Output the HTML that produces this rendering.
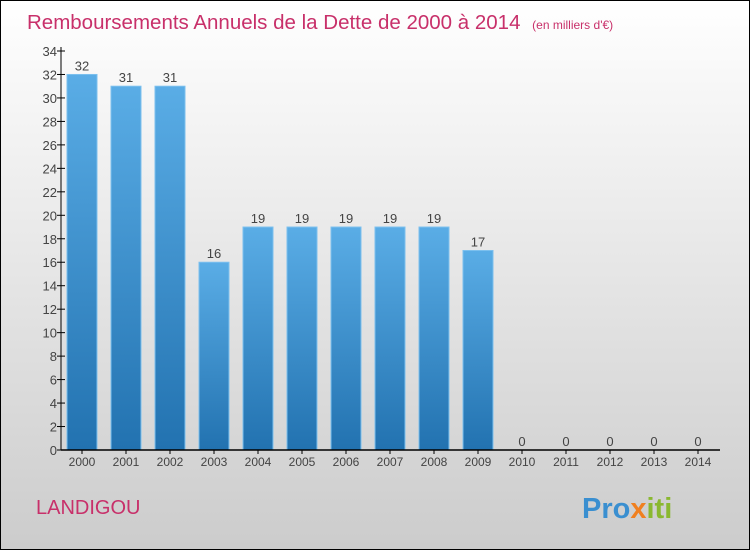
<!DOCTYPE html>
<html><head><meta charset="utf-8"><style>
body{margin:0;width:750px;height:550px;overflow:hidden;font-family:"Liberation Sans",sans-serif}
</style></head><body>
<svg id="c" width="750" height="550" xmlns="http://www.w3.org/2000/svg">
<defs>
<linearGradient id="bg" x1="0" y1="0" x2="0" y2="1"><stop offset="0" stop-color="#ffffff"/><stop offset="1" stop-color="#cccccc"/></linearGradient>
<linearGradient id="bar" x1="0" y1="0" x2="0" y2="1"><stop offset="0" stop-color="#5aade6"/><stop offset="1" stop-color="#2272b0"/></linearGradient>
</defs>
<rect x="0.5" y="0.5" width="749" height="549" fill="url(#bg)" stroke="#000"/>
<text x="27" y="29" font-size="20.5" fill="#c8306a">Remboursements Annuels de la Dette de 2000 à 2014 <tspan font-size="12" dx="6">(en milliers d'€)</tspan></text>
<text x="36" y="514" font-size="20" fill="#c8306a">LANDIGOU</text>
<text x="582" y="518" font-size="29" font-weight="bold" fill="#3a8fd0">Pro<tspan fill="#f08020">x</tspan><tspan fill="#8ab830">iti</tspan></text>
<g id="plot"></g>
</svg>
<script>
const years=["2000","2001","2002","2003","2004","2005","2006","2007","2008","2009","2010","2011","2012","2013","2014"];
const values=[32,31,31,16,19,19,19,19,19,17,0,0,0,0,0];
const yTicks=[0,2,4,6,8,10,12,14,16,18,20,22,24,26,28,30,32,34];
const NS="http://www.w3.org/2000/svg";
const g=document.getElementById('plot');
const y0=450,yTop=51,yMax=34,x0=61;
const ys=v=>y0-(v/yMax)*(y0-yTop);
const xs=i=>82+i*44;
function mk(t,a){const e=document.createElementNS(NS,t);for(const k in a)e.setAttribute(k,a[k]);g.appendChild(e);return e;}
yTicks.forEach(t=>{
 const l=mk('line',{x1:x0-4,x2:x0+4,y1:ys(t),y2:ys(t),stroke:'#000'});
 
 
 const tx=mk('text',{x:x0-4,y:ys(t)+5,'text-anchor':'end','font-size':13,fill:'#444'});
 tx.textContent=t;
 
 
});
values.forEach((v,i)=>{
 const cx=xs(i);
 if(v>0){
  const r=mk('rect',{x:cx-15,y:ys(v),width:30,height:y0-ys(v),fill:'url(#bar)',stroke:'#7cc0ee','stroke-width':1});
  
  
 }
 const vl=mk('text',{x:cx,y:ys(v)-4,'text-anchor':'middle','font-size':13,fill:'#444'});
 vl.textContent=v;
 
 
 const tk=mk('line',{x1:cx,x2:cx,y1:y0,y2:y0+4,stroke:'#000'});
 
 
 const xl=mk('text',{x:cx,y:y0+16,'text-anchor':'middle','font-size':12,fill:'#444'});
 xl.textContent=years[i];
 
 
});
const ya=mk('line',{x1:x0,x2:x0,y1:yTop-4,y2:y0,stroke:'#000'});


const xa=mk('line',{x1:x0,x2:720,y1:y0,y2:y0,stroke:'#000','stroke-width':1.5});


</script>
</body></html>
